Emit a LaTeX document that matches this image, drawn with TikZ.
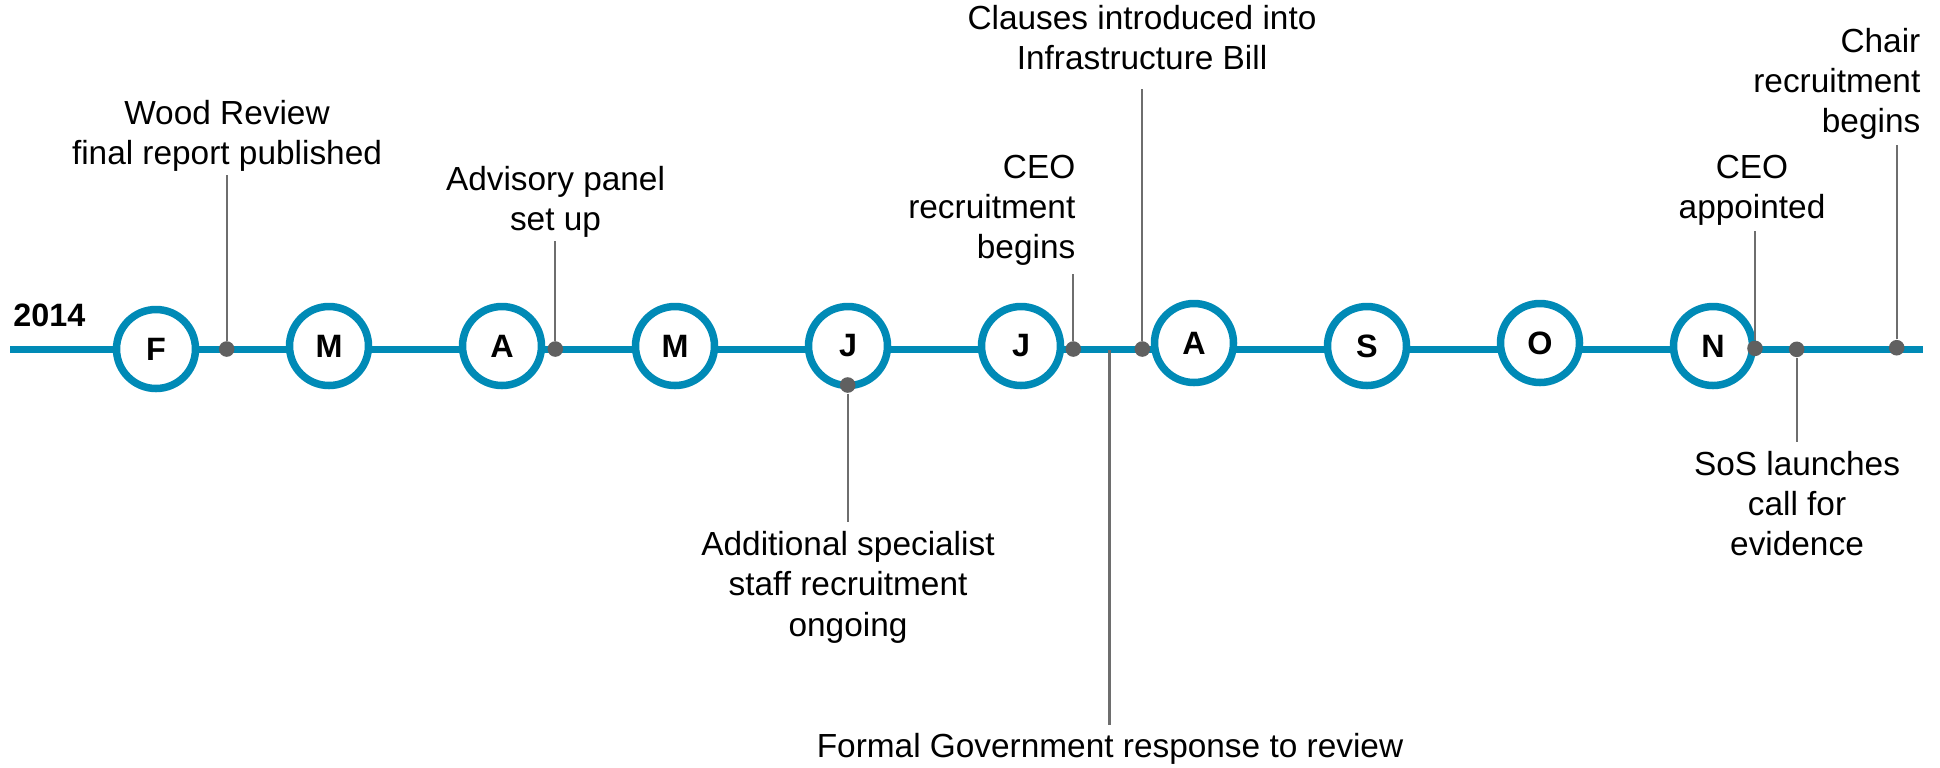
\documentclass[tikz,border=0pt]{standalone}
\usepackage{fontspec}
\setmainfont{Liberation Sans}

\definecolor{azul}{RGB}{0,138,182}
\definecolor{gris}{RGB}{96,96,96}
\definecolor{grisclaro}{RGB}{110,110,110}

\begin{document}
\begin{tikzpicture}[
        linea/.style={azul, line width=0.07cm},
        mes/.style={circle, draw=azul, fill=white, line width=0.075cm, minimum size=0.79cm, inner sep=0,
            font=\fontsize{9.2}{11}\selectfont\bfseries},
        punto/.style={circle, fill=gris, minimum size=0.156cm, inner sep=0},
        hito/.style={inner sep=0, align=center, font=\fontsize{9.5}{11.4}\selectfont},
        tallo/.style={grisclaro, line width=0.023cm}
    ]
        \useasboundingbox (0,0) rectangle (19.4,-7.67);

        % Eje del tiempo
        \coordinate (inicio) at (0.10,-3.495);
        \coordinate (fin) at (19.23,-3.495);
        \draw[linea] (inicio) -- (fin);
        \node[anchor=base west, inner sep=0, font=\fontsize{9.2}{11}\selectfont\bfseries] (anio) at (0.127,-3.267) {2014};

        % Meses
        \foreach \m/\y [count=\i] in {F/3.49, M/3.46, A/3.46, M/3.46, J/3.46, J/3.46, A/3.43, S/3.46, O/3.43, N/3.46}
            \node[mes] (m\i) at ({1.56+(\i-1)*1.73},-\y) {\m};

        % Hitos
        \node[punto] (d1) at (2.267,-3.49) {};
        \node[punto] (d2) at (5.553,-3.49) {};
        \node[punto] (d3) at (8.477,-3.85) {};
        \node[punto] (d4) at (10.733,-3.49) {};
        \node[punto] (d5) at (11.423,-3.49) {};
        \node[punto] (d6) at (17.55,-3.483) {};
        \node[punto] (d7) at (17.967,-3.493) {};
        \node[punto] (d8) at (18.967,-3.477) {};
        \coordinate (d9) at (11.095,-3.50);

        % Textos
        \node[hito, anchor=north] (wood) at (2.27,-0.993) {Wood Review\\final report published};
        \node[hito, anchor=north] (panel) at (5.555,-1.66) {Advisory panel\\set up};
        \node[hito, anchor=north east, align=right] (ceorec) at (10.76,-1.543) {CEO\\recruitment\\begins};
        \node[hito, anchor=north] (clausulas) at (11.42,-0.043) {Clauses introduced into\\Infrastructure Bill};
        \node[hito, anchor=north] (ceoapp) at (17.52,-1.543) {CEO\\appointed};
        \node[hito, anchor=north east, align=right] (chair) at (19.21,-0.277) {Chair\\recruitment\\begins};
        \node[hito, anchor=north] (personal) at (8.48,-5.31) {Additional specialist\\staff recruitment\\ongoing};
        \node[hito, anchor=north] (sos) at (17.97,-4.503) {SoS launches\\call for\\evidence};
        \node[hito, anchor=north] (formal) at (11.10,-7.327) {Formal Government response to review};

        % Lineas de cada hito
        \draw[tallo, shorten >=0.03cm] (d1) -- (d1 |- wood.south);
        \draw[tallo, shorten >=0.02cm] (d2) -- (d2 |- panel.south);
        \draw[tallo, shorten >=0.09cm] (d3) -- (d3 |- personal.north);
        \draw[tallo, shorten >=0.08cm] (d4) -- (d4 |- ceorec.south);
        \draw[tallo, shorten >=0.19cm] (d5) -- (d5 |- clausulas.south);
        \draw[tallo, shorten >=0.046cm] (d6) -- (d6 |- ceoapp.south);
        \draw[tallo, shorten >=0.086cm] (d7) -- (d7 |- sos.north);
        \draw[tallo, shorten >=0.046cm] (d8) -- (d8 |- chair.south);
        \draw[tallo, shorten >=0.077cm] (d9) -- (d9 |- formal.north);
    \end{tikzpicture}
\end{document}
